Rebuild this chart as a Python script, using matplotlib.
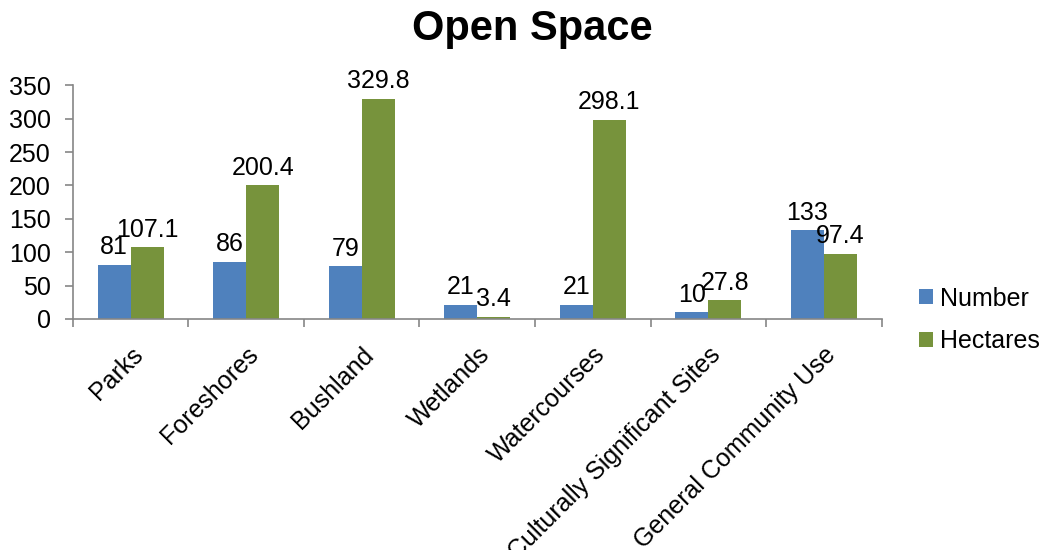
import matplotlib.pyplot as plt
import numpy as np

plt.rcParams['font.family'] = ['Liberation Sans', 'DejaVu Sans']

categories = ['Parks', 'Foreshores', 'Bushland', 'Wetlands', 'Watercourses',
              'Culturally Significant Sites', 'General Community Use']
number = [81, 86, 79, 21, 21, 10, 133]
hectares = [107.1, 200.4, 329.8, 3.4, 298.1, 27.8, 97.4]
number_labels = ['81', '86', '79', '21', '21', '10', '133']
hectare_labels = ['107.1', '200.4', '329.8', '3.4', '298.1', '27.8', '97.4']

blue = '#4F81BD'
green = '#77933C'
axis_grey = '#868686'
fs = 18

fig = plt.figure(figsize=(10.42, 5.5), dpi=100)
ax = fig.add_axes([0.070, 0.420, 0.776, 0.425])

x = np.arange(len(categories))
w = 0.286
b1 = ax.bar(x - w / 2, number, w, color=blue, label='Number')
b2 = ax.bar(x + w / 2, hectares, w, color=green, label='Hectares')

for rect, lab in zip(b1, number_labels):
    ax.annotate(lab, (rect.get_x() + rect.get_width() / 2, rect.get_height()),
                xytext=(0, 4), textcoords='offset points', ha='center', va='bottom', fontsize=fs)
for rect, lab in zip(b2, hectare_labels):
    ax.annotate(lab, (rect.get_x() + rect.get_width() / 2, rect.get_height()),
                xytext=(0, 4), textcoords='offset points', ha='center', va='bottom', fontsize=fs)

ax.set_xlim(-0.5, len(categories) - 0.5)
ax.set_ylim(0, 350)
ax.set_yticks(np.arange(0, 351, 50))
ax.tick_params(axis='y', labelsize=fs, length=6, color=axis_grey, width=1.2, pad=10)

# category boundary ticks like Excel
ax.set_xticks(np.arange(-0.5, len(categories), 1.0))
ax.set_xticklabels([])
ax.tick_params(axis='x', which='major', length=6, color=axis_grey, width=1.2)
ax.set_xticks(x, minor=True)
ax.set_xticklabels(categories, minor=True, rotation=45, ha='right',
                   rotation_mode='anchor', fontsize=fs)
ax.tick_params(axis='x', which='minor', length=0, pad=17)

for s in ['top', 'right']:
    ax.spines[s].set_visible(False)
for s in ['left', 'bottom']:
    ax.spines[s].set_color(axis_grey)
    ax.spines[s].set_linewidth(1.2)

fig.text(0.511, 0.947, 'Open Space', ha='center', va='center', fontsize=30, fontweight='bold')

fig.legend(handles=[b1, b2], labels=['Number', 'Hectares'], loc='center left',
           bbox_to_anchor=(0.882, 0.418), frameon=False, fontsize=fs,
           handlelength=0.55, handleheight=0.55, handletextpad=0.3, labelspacing=0.75,
           borderaxespad=0, borderpad=0)

fig.savefig('out.png', dpi=100)
